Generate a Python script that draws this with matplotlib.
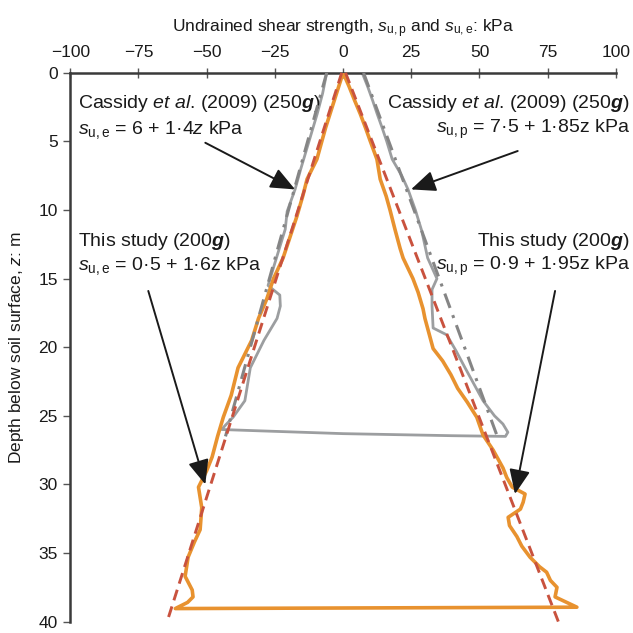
#!/usr/bin/env python3
#
# plot.py
#
# Undrained shear strength profiles, penetration / extraction
#
import numpy as np
import matplotlib
matplotlib.use('Agg')
import matplotlib.pyplot as plt

plt.rcParams['font.family'] = ['Liberation Sans', 'DejaVu Sans']
plt.rcParams['mathtext.fontset'] = 'custom'
plt.rcParams['mathtext.rm'] = 'Liberation Sans'
plt.rcParams['mathtext.it'] = 'Liberation Sans:italic'
plt.rcParams['mathtext.bf'] = 'Liberation Sans:bold'
plt.rcParams['mathtext.bfit'] = 'Liberation Sans:italic:bold'

# ---- data ----
# this study (200g): penetration down the right, across the bottom, extraction back up the left
study_z = [0, 1, 2, 3, 4, 5, 6.3, 7.75, 9, 10, 11.4, 12.8, 13.5, 15, 16, 17.2, 17.9,
           19, 20.1, 21, 22, 23, 24, 25.1, 26.4, 27.5, 28.8, 29.5, 30.2, 30.7, 31.3,
           31.8, 32.4, 33.0, 33.8, 34.5, 35.3, 36.0, 36.4, 37.0, 37.5, 38.2, 38.95,
           39.05, 38.6, 38.2, 37.7, 36.7, 35.3, 34.2, 33.3, 31.7, 30.2, 29.0, 28.0,
           26.5, 25.1, 23.5, 21.5, 19.5, 17.9, 16.5, 15.0, 13.5, 12.0, 10.5, 9.0,
           7.75, 6.3, 5, 4, 3, 2, 1, 0]
study_su = [0, 2.2, 4.2, 6.3, 8.2, 10.0, 12.4, 13.6, 15.8, 17.2, 19.0, 20.9, 22.0, 25.6,
            27.5, 29.3, 30.0, 31.5, 33.0, 36.5, 39.5, 42.0, 45.5, 49.0, 51.3, 55.0,
            58.6, 60.0, 62.0, 66.7, 66.0, 65.0, 60.5, 61.0, 63.7, 65.5, 68.5, 72.0,
            74.6, 76.0, 78.4, 77.7, 85.7,
            -61.5, -57, -55, -55.3, -57.9, -56.8, -54.5, -52.4, -51.8, -53, -50, -48,
            -46, -43.9, -41, -38.5, -33.5, -31, -28, -25.5, -22, -19.5, -17, -14.8,
            -13.2, -9.6, -7.8, -6.4, -4.8, -3.2, -1.6, 0]

# Cassidy et al. (2009) (250g)
cass_z = [0, 1, 2, 3, 4, 5, 6.3, 7.5, 8.5, 10, 11.5, 13.5, 15.0, 15.8, 17, 18.6, 19.1,
          20.3, 21.5, 22.7, 23.9, 25.0, 25.6, 26.2, 26.5,
          26.45, 26.3, 26.1, 26.0,
          25.7, 25.1, 23.9, 21.5, 19.5, 17.9, 17.0, 16.2, 15.5, 13.8, 11.4, 10.1,
          8.5, 7.0, 5.0, 3.0, 1.5, 0]
cass_su = [7.0, 9.0, 10.8, 12.5, 14.3, 16.0, 18.0, 21.5, 23.8, 26.5, 28.8, 31.0, 34.4,
           32.6, 32.6, 33.0, 38, 41.5, 44.7, 48, 51.3, 55.5, 58.6, 60.4, 59.5,
           40, 0, -30, -44.5,
           -43.2, -40.3, -36, -34, -29, -24.2, -23.0, -23.2, -27.5, -24.9, -21.2,
           -20.5, -17.6, -15.5, -12.5, -9.5, -7.5, -6]

# linear fits: s = a + b z
study_p = (0.9, 1.95)
study_e = (0.5, 1.6)
cass_p = (7.5, 1.85)
cass_e = (6.0, 1.4)
study_zmax = 40
cass_zmax = 26.5

xticks = [-100, -75, -50, -25, 0, 25, 50, 75, 100]
yticks = [0, 5, 10, 15, 20, 25, 30, 35, 40]

orange = '#E8922F'
grey = '#9C9EA0'
red = '#C9523E'
greydd = '#858585'

fig = plt.figure(figsize=(6.33, 6.33), dpi=100)
ax = fig.add_axes([0.111, 0.018, 0.862, 0.867])

# measured profiles
ax.plot(cass_su, cass_z, color=grey, lw=2.0, zorder=2)
ax.plot(study_su, study_z, color=orange, lw=2.6, zorder=3)

# fitted lines
dd = (0, (5, 2.5, 1, 2.5))
zc = np.array([0, cass_zmax])
ax.plot(cass_p[0] + cass_p[1]*zc, zc, color=greydd, lw=2.2, ls=dd, zorder=4)
ax.plot(-(cass_e[0] + cass_e[1]*zc), zc, color=greydd, lw=2.2, ls=dd, zorder=4)
zs = np.array([0, study_zmax])
ax.plot(study_p[0] + study_p[1]*zs, zs, color=red, lw=2.1, ls=(0, (3.8, 2.2)), zorder=5, clip_on=False)
ax.plot(-(study_e[0] + study_e[1]*zs), zs, color=red, lw=2.1, ls=(0, (3.8, 2.2)), zorder=5, clip_on=False)

ax.set_xlim(-100, 100)
ax.set_ylim(40, 0)
ax.set_xticks(xticks)
ax.set_yticks(yticks)
ax.xaxis.tick_top()
ax.xaxis.set_label_position('top')
for s in ['right', 'bottom']:
    ax.spines[s].set_visible(False)
for s in ['left', 'top']:
    ax.spines[s].set_color('#3a3a3a')
    ax.spines[s].set_linewidth(1.8)
lfs = 12.5
ax.tick_params(axis='x', direction='inout', length=7, width=1.0, color='#555555',
               labelsize=lfs, pad=6, labelcolor='#1a1a1a')
ax.tick_params(axis='y', direction='out', length=5, width=1.0, color='#555555',
               labelsize=lfs, pad=4, labelcolor='#1a1a1a')
ax.set_xlabel(r'Undrained shear strength, $s_{\mathrm{u,p}}$ and $s_{\mathrm{u,e}}$: kPa',
              fontsize=lfs, labelpad=9, color='#1a1a1a')
ax.set_ylabel(r'Depth below soil surface, $z$: m', fontsize=lfs, labelpad=9, color='#1a1a1a')

# annotations
fs = 14
tc = '#1a1a1a'
ax.text(-97, 2.25, r'Cassidy $et\ al$. (2009) (250$\mathbfit{g}$)', fontsize=fs, color=tc, va='center', ha='left')
ax.text(-97, 4.15, r'$s_{\mathrm{u,e}}$ = 6 + 1·4$z$ kPa', fontsize=fs, color=tc, va='center', ha='left')
ax.text(105, 2.25, r'Cassidy $et\ al$. (2009) (250$\mathbfit{g}$)', fontsize=fs, color=tc, va='center', ha='right')
ax.text(105, 4.15, r'$s_{\mathrm{u,p}}$ = 7·5 + 1·85z kPa', fontsize=fs, color=tc, va='center', ha='right')
ax.text(-97, 12.3, r'This study (200$\mathbfit{g}$)', fontsize=fs, color=tc, va='center', ha='left')
ax.text(-97, 14.1, r'$s_{\mathrm{u,e}}$ = 0·5 + 1·6z kPa', fontsize=fs, color=tc, va='center', ha='left')
ax.text(105, 12.3, r'This study (200$\mathbfit{g}$)', fontsize=fs, color=tc, va='center', ha='right')
ax.text(105, 14.1, r'$s_{\mathrm{u,p}}$ = 0·9 + 1·95z kPa', fontsize=fs, color=tc, va='center', ha='right')

arrows = [((-50.5, 5.1), (-17.6, 8.5)),
          ((64.0, 5.7), (24.9, 8.5)),
          ((-71.4, 15.9), (-50.5, 30.0)),
          ((77.7, 15.9), (63.0, 30.7))]
for start, tip in arrows:
    ax.annotate('', xy=tip, xytext=start,
                arrowprops=dict(arrowstyle='-|>,head_length=0.75,head_width=0.32',
                                color='#1a1a1a', lw=1.4, mutation_scale=20,
                                shrinkA=0, shrinkB=0), zorder=6)

fig.savefig('out.png', dpi=100)
